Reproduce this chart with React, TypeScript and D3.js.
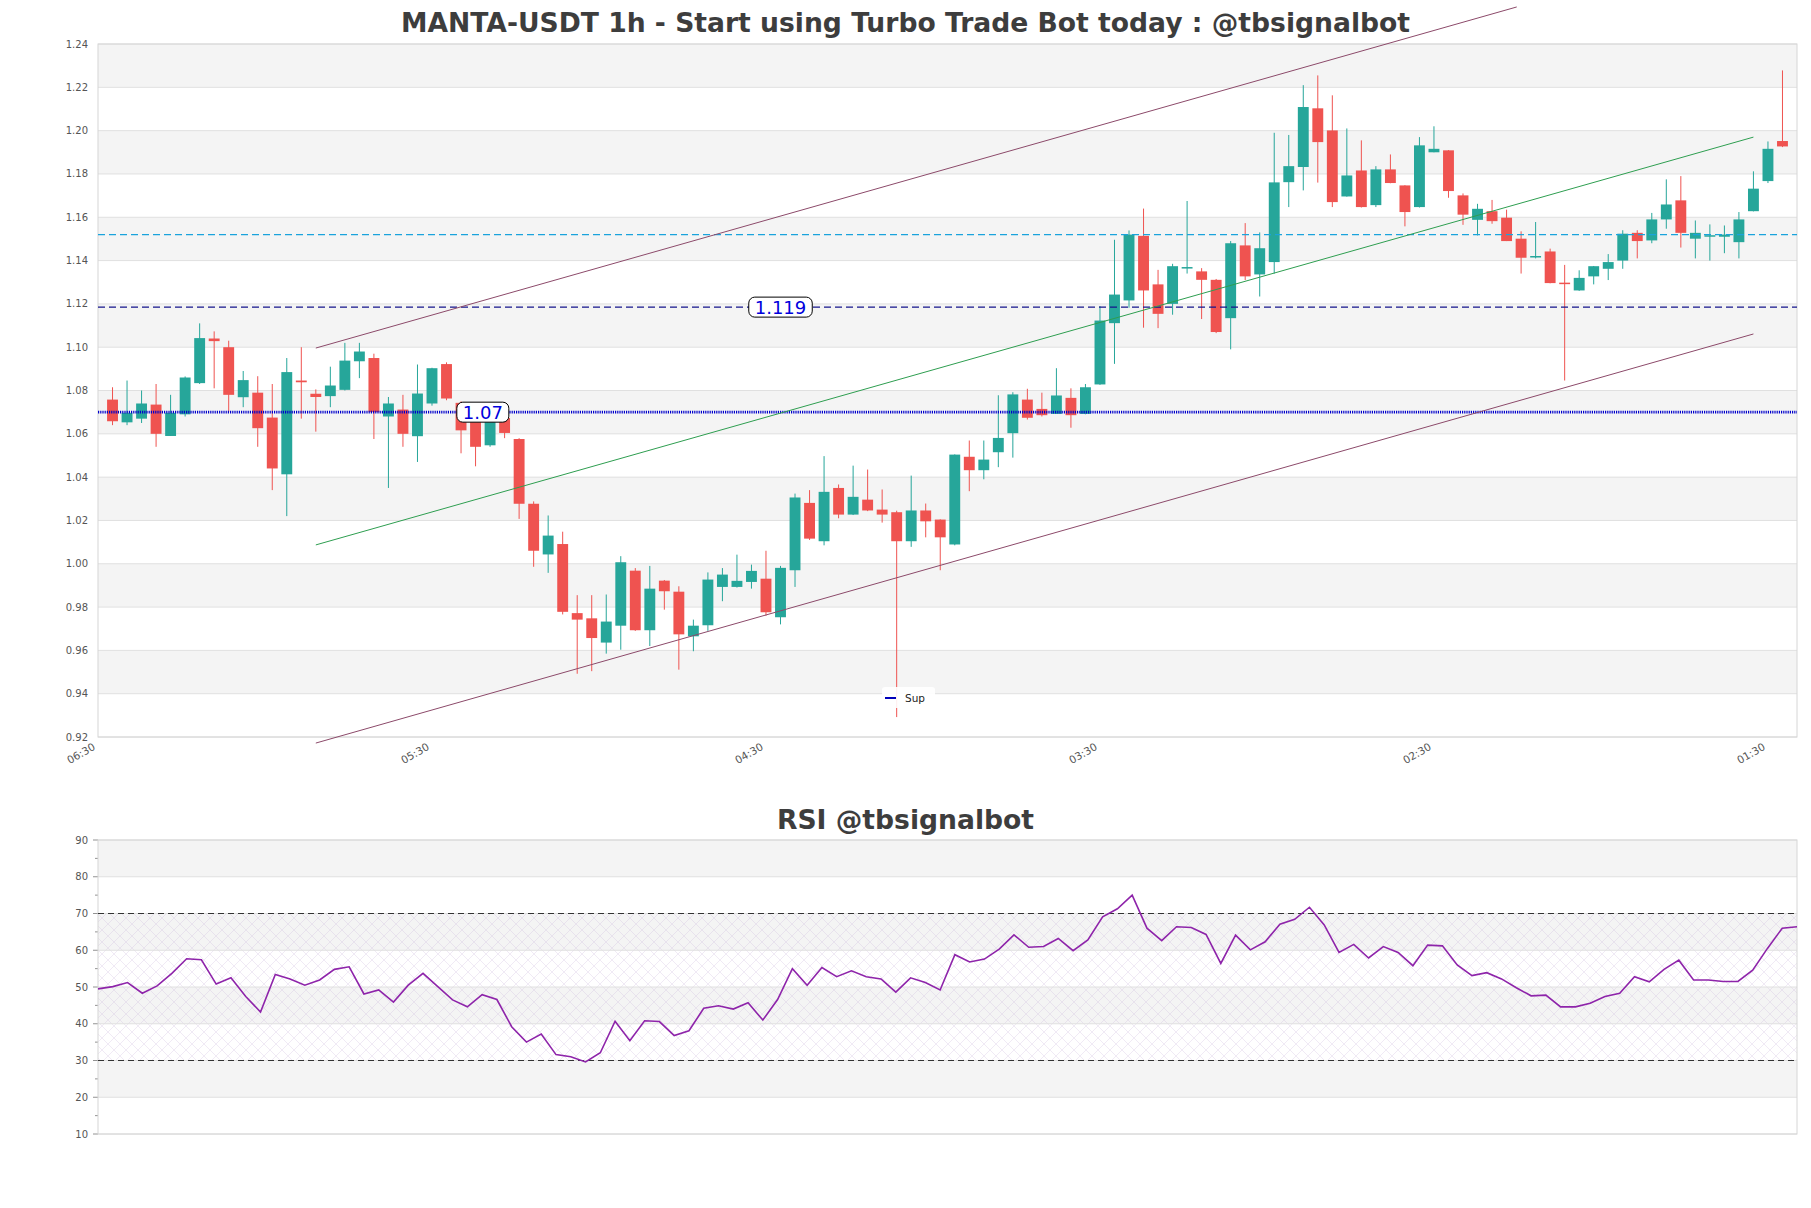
import React from 'react';
import * as d3 from 'd3';

// candle data (1h), left to right
const opens = [
  1.0758, 1.0653, 1.067, 1.0735, 1.059, 1.069, 1.0834, 1.104, 1.1, 1.0769,
  1.079, 1.0675, 1.0413, 1.0846, 1.0785, 1.0774, 1.0803, 1.0935, 1.095, 1.068,
  1.0712, 1.0589, 1.074, 1.0922, 1.0743, 1.068, 1.0547, 1.0673, 1.0576, 1.0277,
  1.0043, 1.0091, 0.9772, 0.9748, 0.9636, 0.9714, 0.9968, 0.9693, 0.9922, 0.9871,
  0.9665, 0.9716, 0.9893, 0.9893, 0.9916, 0.9931, 0.9753, 0.997, 1.0281, 1.0104,
  1.035, 1.0227, 1.0296, 1.025, 1.0238, 1.0104, 1.0246, 1.0204, 1.0089, 1.0494,
  1.0432, 1.0515, 1.0603, 1.0758, 1.0715, 1.0692, 1.0766, 1.0692, 1.0828, 1.1111,
  1.1216, 1.1514, 1.129, 1.12, 1.1365, 1.135, 1.1311, 1.1134, 1.147, 1.1336,
  1.1393, 1.1762, 1.1832, 1.2103, 1.2001, 1.1696, 1.1816, 1.1656, 1.1821, 1.1747,
  1.1647, 1.19, 1.1909, 1.1701, 1.1588, 1.1628, 1.1598, 1.1501, 1.1417, 1.1442,
  1.1298, 1.1262, 1.1327, 1.1362, 1.14, 1.1528, 1.1493, 1.159, 1.1678, 1.1501,
  1.1513, 1.151, 1.1485, 1.1628, 1.1767, 1.1952,
];
const highs = [
  1.0815, 1.0846, 1.08, 1.083, 1.078, 1.0865, 1.111, 1.1073, 1.103, 1.089,
  1.0866, 1.083, 1.095, 1.1, 1.0805, 1.091, 1.102, 1.102, 1.097, 1.077,
  1.078, 1.092, 1.0905, 1.093, 1.075, 1.07, 1.069, 1.0685, 1.058, 1.0288,
  1.0223, 1.0148, 0.9855, 0.9855, 0.9858, 1.0035, 0.998, 0.999, 0.9925, 0.9896,
  0.9742, 0.996, 0.998, 1.0042, 0.9996, 1.006, 0.999, 1.0324, 1.034, 1.0497,
  1.0366, 1.0453, 1.0435, 1.0343, 1.0245, 1.0407, 1.0278, 1.0205, 1.0505, 1.0569,
  1.0569, 1.0778, 1.0792, 1.0808, 1.079, 1.0903, 1.081, 1.083, 1.119, 1.1496,
  1.1539, 1.164, 1.1357, 1.1385, 1.1675, 1.1365, 1.1315, 1.149, 1.1573, 1.153,
  1.199, 1.198, 1.221, 1.2255, 1.2163, 1.201, 1.1955, 1.1836, 1.189, 1.1748,
  1.197, 1.202, 1.191, 1.171, 1.1662, 1.168, 1.1635, 1.1535, 1.1578, 1.1455,
  1.138, 1.1355, 1.1375, 1.143, 1.154, 1.154, 1.162, 1.1775, 1.179, 1.1585,
  1.1567, 1.1562, 1.1624, 1.1812, 1.195, 1.2278,
];
const lows = [
  1.064, 1.064, 1.065, 1.054, 1.059, 1.068, 1.083, 1.081, 1.07, 1.0723,
  1.054, 1.034, 1.022, 1.067, 1.061, 1.0723, 1.08, 1.0857, 1.0576, 1.035,
  1.054, 1.047, 1.073, 1.0755, 1.051, 1.045, 1.054, 1.058, 1.0207, 0.9986,
  0.9958, 0.9766, 0.9492, 0.9504, 0.9585, 0.9603, 0.969, 0.962, 0.9788, 0.9511,
  0.9596, 0.969, 0.9827, 0.989, 0.9885, 0.976, 0.972, 0.9893, 1.011, 1.0085,
  1.021, 1.0225, 1.0243, 1.019, 0.9292, 1.0078, 1.0122, 0.997, 1.0085, 1.0335,
  1.039, 1.0446, 1.049, 1.0666, 1.068, 1.0692, 1.0628, 1.069, 1.0826, 1.0923,
  1.1182, 1.109, 1.1088, 1.115, 1.134, 1.113, 1.1065, 1.099, 1.131, 1.1234,
  1.134, 1.1647, 1.1724, 1.176, 1.1647, 1.1695, 1.1645, 1.1647, 1.1757, 1.1558,
  1.1645, 1.19, 1.169, 1.1565, 1.1516, 1.157, 1.149, 1.134, 1.141, 1.1295,
  1.0846, 1.126, 1.129, 1.131, 1.1362, 1.141, 1.148, 1.1547, 1.146, 1.141,
  1.14, 1.1434, 1.141, 1.1627, 1.1758, 1.1924,
];
const closes = [
  1.0658, 1.0697, 1.074, 1.06, 1.0697, 1.086, 1.1042, 1.1028, 1.078, 1.0848,
  1.0626, 1.044, 1.0885, 1.0838, 1.077, 1.0823, 1.0938, 1.098, 1.07, 1.074,
  1.06, 1.0786, 1.0903, 1.0763, 1.0616, 1.054, 1.067, 1.0604, 1.0277, 1.006,
  1.013, 0.9778, 0.9742, 0.9657, 0.9733, 1.0007, 0.9693, 0.9885, 0.9873, 0.9674,
  0.9714, 0.9927, 0.995, 0.9921, 0.9967, 0.9776, 0.9981, 1.0306, 1.0116, 1.0332,
  1.0227, 1.0309, 1.0246, 1.0227, 1.0104, 1.0246, 1.0196, 1.0122, 1.0504, 1.0432,
  1.0481, 1.0581, 1.0782, 1.0674, 1.0686, 1.0777, 1.0686, 1.0815, 1.1123, 1.1243,
  1.152, 1.1262, 1.1154, 1.1374, 1.137, 1.1311, 1.107, 1.148, 1.1327, 1.1457,
  1.1761, 1.1836, 1.2109, 1.1947, 1.167, 1.1793, 1.1647, 1.1821, 1.1758, 1.1624,
  1.1932, 1.1916, 1.1721, 1.1612, 1.1639, 1.1582, 1.149, 1.1413, 1.1421, 1.1296,
  1.1294, 1.132, 1.1374, 1.1393, 1.1524, 1.149, 1.159, 1.1659, 1.1528, 1.1528,
  1.1517, 1.152, 1.159, 1.1732, 1.1916, 1.1927,
];

const rsiValues = [
  49.5, 50.1, 51.2, 48.3, 50.3, 53.7, 57.7, 57.4, 50.8, 52.5,
  47.4, 43.2, 53.4, 52.2, 50.5, 51.9, 54.8, 55.5, 48.1, 49.2,
  45.9, 50.5, 53.7, 50.1, 46.5, 44.6, 47.9, 46.6, 39.2, 35.0,
  37.2, 31.6, 31.0, 29.6, 32.1, 40.7, 35.4, 40.8, 40.6, 36.8,
  38.1, 44.2, 44.9, 44.0, 45.7, 41.0, 46.6, 55.0, 50.5, 55.3,
  52.8, 54.4, 52.8, 52.2, 48.6, 52.5, 51.2, 49.2, 58.8, 56.8,
  57.6, 60.3, 64.2, 60.8, 61.0, 63.2, 59.9, 62.8, 69.1, 71.3,
  75.0, 66.0, 62.6, 66.4, 66.2, 64.3, 56.4, 64.1, 60.1, 62.3,
  67.1, 68.4, 71.7, 66.9, 59.4, 61.6, 57.9, 61.0, 59.4, 55.8,
  61.4, 61.2, 56.0, 53.1, 53.9, 52.2, 49.8, 47.6, 47.8, 44.6,
  44.6, 45.6, 47.4, 48.3, 52.8, 51.4, 54.8, 57.3, 51.9, 51.9,
  51.5, 51.5, 54.6, 60.5, 66.0, 66.4,
];

const timeLabels = ['06:30', '05:30', '04:30', '03:30', '02:30', '01:30'];
const timeTickIdx = [-1, 22, 45, 68, 91, 114];
const priceTicks = d3.range(0, 17).map((i) => +(0.92 + i * 0.02).toFixed(2));
const rsiTicks = [10, 20, 30, 40, 50, 60, 70, 80, 90];
const rsiMinor = [15, 25, 35, 45, 55, 65, 75, 85];

const supLevel = 1.07;
const resLevel = 1.1185;
const cyanLevel = 1.152;
// channel lines: [index, price] endpoints
const upperLine = [[14, 1.0996], [96.7, 1.2571]];
const midLine = [[14, 1.0087], [113, 1.197]];
const lowerLine = [[14, 0.9172], [113, 1.1061]];

const W = 1811;
const H = 1208;
const UP = '#26a69a';
const DOWN = '#ef5350';
const FONT = 'DejaVu Sans, sans-serif';

export default function App() {
  const x = d3.scaleLinear().domain([-1, 116]).range([98, 1797]);
  const y = d3.scaleLinear().domain([0.92, 1.24]).range([737, 44]);
  const rx = d3.scaleLinear().domain([0, rsiValues.length - 1]).range([98, 1797]);
  const ry = d3.scaleLinear().domain([10, 90]).range([1134, 840]);
  const bw = (x(1) - x(0)) * 0.75;

  const priceBands = d3.range(0, priceTicks.length - 1);
  const rsiBands = d3.range(0, rsiTicks.length - 1);

  const rsiLine = d3.line<number>().x((_, i) => rx(i)).y((d) => ry(d));
  const trend = d3.line<number[]>().x((d) => x(d[0])).y((d) => y(d[1]));

  const label = (val: number, idx: number, text: string) => {
    const cx = x(idx);
    const cy = y(val);
    const w = text.length * 11.5 + 6;
    return (
      <g>
        <rect x={cx - w / 2} y={cy - 10} width={w} height={20} rx={6} fill="#fff" stroke="#000" strokeWidth={1} />
        <text x={cx} y={cy + 6.5} textAnchor="middle" fontSize={18} fill="#0000dd" fontFamily={FONT}>{text}</text>
      </g>
    );
  };

  return (
    <div style={{ position: 'absolute', left: 0, top: 0 }}>
      <svg width={W} height={H} style={{ display: 'block', background: '#fff' }}>
        <defs>
          <pattern id="hatch" width="12" height="12" patternUnits="userSpaceOnUse">
            <path d="M0,0L12,12M12,0L0,12" stroke="#cdb9dc" strokeWidth="0.5" />
          </pattern>
        </defs>

        {/* price panel */}
        {priceBands.map((k) => {
          const top = priceTicks[priceTicks.length - 1 - k];
          const bot = priceTicks[priceTicks.length - 2 - k];
          return k % 2 === 0 ? (
            <rect key={k} x={98} y={y(top)} width={1797 - 98} height={y(bot) - y(top)} fill="#f4f4f4" />
          ) : null;
        })}
        {priceTicks.map((t) => (
          <g key={t}>
            <line x1={98} x2={1797} y1={y(t)} y2={y(t)} stroke="#e0e0e0" strokeWidth={1} />
            <text x={88} y={y(t) + 3.5} textAnchor="end" fontSize={10} fill="#555" fontFamily={FONT}>{t.toFixed(2)}</text>
          </g>
        ))}
        <rect x={98} y={44} width={1797 - 98} height={737 - 44} fill="none" stroke="#d6d6d6" strokeWidth={1} />
        {timeTickIdx.map((ti, k) => (
          <text key={ti} transform={`translate(${x(ti) - 2},${749}) rotate(-30)`} textAnchor="end" fontSize={10.5} fill="#555" fontFamily={FONT}>
            {timeLabels[k]}
          </text>
        ))}

        {/* candles */}
        {opens.map((o, i) => {
          const c = closes[i];
          const col = c >= o ? UP : DOWN;
          const top = y(Math.max(o, c));
          const h = Math.max(y(Math.min(o, c)) - top, 1.5);
          return (
            <g key={i}>
              <line x1={x(i)} x2={x(i)} y1={y(highs[i])} y2={y(lows[i])} stroke={col} strokeWidth={1} />
              <rect x={x(i) - bw / 2} y={top} width={bw} height={h} fill={col} />
            </g>
          );
        })}

        {/* levels */}
        <line x1={98} x2={1797} y1={y(cyanLevel)} y2={y(cyanLevel)} stroke="#1aa3dc" strokeWidth={1.3} strokeDasharray="7,4" />
        <line x1={98} x2={1797} y1={y(resLevel)} y2={y(resLevel)} stroke="#15158c" strokeWidth={1.3} strokeDasharray="7,4" />
        <line x1={98} x2={1797} y1={y(supLevel)} y2={y(supLevel)} stroke="#0000cc" strokeWidth={2.6} strokeDasharray="1.2,1" />

        {/* channel */}
        <path d={trend(upperLine) || ''} fill="none" stroke="#8c4a6a" strokeWidth={1} />
        <path d={trend(midLine) || ''} fill="none" stroke="#2e9e50" strokeWidth={1} />
        <path d={trend(lowerLine) || ''} fill="none" stroke="#8c4a6a" strokeWidth={1} />

        {label(resLevel, 46, '1.119')}
        {label(supLevel, 25.5, '1.07')}

        {/* legend */}
        <rect x={882} y={687} width={53} height={21} rx={3} fill="#fff" fillOpacity={0.9} />
        <line x1={885} x2={896} y1={698} y2={698} stroke="#0000bb" strokeWidth={2} />
        <text x={905} y={702} fontSize={10.5} fill="#222" fontFamily={FONT}>Sup</text>

        <text x={905.5} y={32} textAnchor="middle" fontSize={26.6} fontWeight="bold" fill="#3d3d3d" fontFamily={FONT}>
          MANTA-USDT 1h - Start using Turbo Trade Bot today : @tbsignalbot
        </text>

        {/* RSI panel */}
        <text x={905.5} y={829} textAnchor="middle" fontSize={26.6} fontWeight="bold" fill="#3d3d3d" fontFamily={FONT}>
          RSI @tbsignalbot
        </text>
        {rsiBands.map((k) => {
          const top = rsiTicks[rsiTicks.length - 1 - k];
          const bot = rsiTicks[rsiTicks.length - 2 - k];
          return k % 2 === 0 ? (
            <rect key={k} x={98} y={ry(top)} width={1797 - 98} height={ry(bot) - ry(top)} fill="#f4f4f4" />
          ) : null;
        })}
        <rect x={98} y={ry(70)} width={1797 - 98} height={ry(30) - ry(70)} fill="url(#hatch)" opacity={0.6} />
        {rsiTicks.map((t) => (
          <g key={t}>
            <line x1={98} x2={1797} y1={ry(t)} y2={ry(t)} stroke="#e0e0e0" strokeWidth={1} />
            <line x1={93} x2={98} y1={ry(t)} y2={ry(t)} stroke="#777" strokeWidth={0.8} />
            <text x={88} y={ry(t) + 3.5} textAnchor="end" fontSize={10} fill="#555" fontFamily={FONT}>{t}</text>
          </g>
        ))}
        {rsiMinor.map((t) => (
          <line key={t} x1={95} x2={98} y1={ry(t)} y2={ry(t)} stroke="#777" strokeWidth={0.8} />
        ))}
        <rect x={98} y={840} width={1797 - 98} height={1134 - 840} fill="none" stroke="#d6d6d6" strokeWidth={1} />
        <line x1={98} x2={1797} y1={ry(70)} y2={ry(70)} stroke="#333" strokeWidth={1.2} strokeDasharray="6,4" />
        <line x1={98} x2={1797} y1={ry(30)} y2={ry(30)} stroke="#333" strokeWidth={1.2} strokeDasharray="6,4" />
        <path d={rsiLine(rsiValues) || ''} fill="none" stroke="#8e24aa" strokeWidth={1.6} />
      </svg>
    </div>
  );
}
